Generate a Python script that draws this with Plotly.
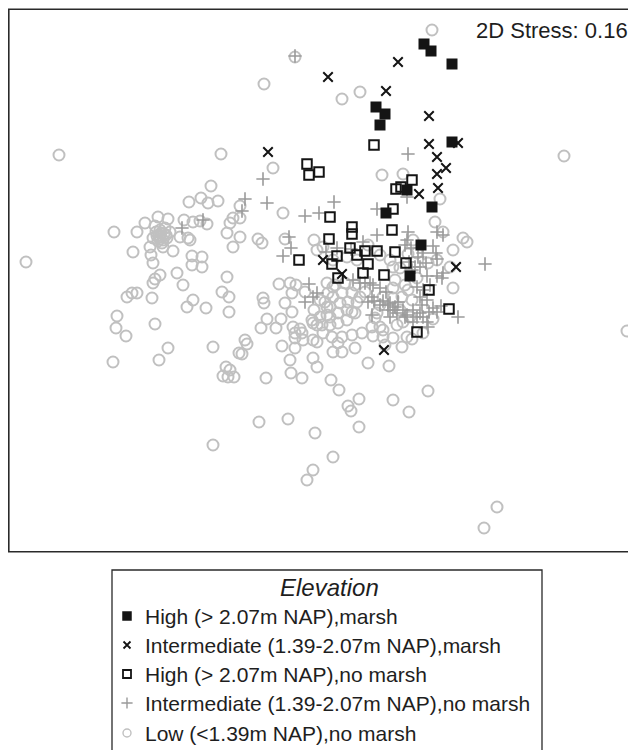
import plotly.graph_objects as go

# ---------------- data (NMDS ordination scores) ----------------
hm_x = [1.04, 1.11, 1.32, 0.56, 0.65, 0.60, 1.32, 0.87, 1.12, 0.66, 1.01, 0.90]
hm_y = [2.36, 2.29, 2.16, 1.73, 1.66, 1.55, 1.38, 0.90, 0.73, 0.67, 0.35, 0.04]

im_x = [-0.52, 0.08, 0.78, 0.66, 1.09, 1.09, 1.38, 1.17, 1.26, 1.17, 1.18, 0.99, 0.03, 0.22, 1.36, 0.64]
im_y = [1.28, 2.03, 2.18, 1.89, 1.64, 1.36, 1.37, 1.23, 1.12, 1.06, 0.92, 0.86, 0.20, 0.06, 0.13, -0.70]

hn_x = [-0.13, -0.11, -0.01, 0.54, 0.92, 0.76, 0.81, 0.73, 0.10, 0.32, 0.32, 0.09, 0.72, -0.21, 0.30,
        0.17, 0.12, 0.45, 0.57, 0.37, 0.48, 0.43, 0.64, 0.75, 0.86, 0.18, 1.09, 1.29, 0.97]
hn_y = [1.16, 1.05, 1.08, 1.35, 1.00, 0.91, 0.93, 0.71, 0.63, 0.53, 0.46, 0.41, 0.50, 0.20, 0.32,
        0.24, 0.16, 0.29, 0.29, 0.25, 0.16, 0.07, 0.05, 0.28, 0.17, 0.02, -0.10, -0.29, -0.52]

in_x = [-0.25, -0.57, -0.75, -0.53, -0.78, -1.38, -1.17, -0.15, -0.01, 0.14, -0.31, -0.29, -0.37,
        0.88, 0.87, 0.57, 0.57, 0.88, 1.17, 1.23, 1.65, 0.06, 0.17, 0.31, 0.43, 0.85, 0.87, 0.91,
        1.03, 1.13, 1.16, 0.98, 0.89, 0.95, 1.06, 1.00, 1.17, 1.23, 1.22, 1.07, 1.17, 0.92, 1.10,
        0.45, 0.50, 0.40, 0.33, 0.53, 0.60, 0.66, 0.52, 0.54, 0.63, 0.48, 0.60, 0.68, 0.70, 0.78,
        0.75, 0.73, 0.83, 0.68, 0.70, 0.52, 0.77, 0.87, 0.93, 1.00, 1.03, 0.97, 1.07, 1.02, 1.09,
        1.13, 1.21, 1.17, 1.00, 1.03, 0.97, 0.93, 0.85, 1.07, 1.08, 1.38, -0.15, -0.11, -0.07, -0.03]
in_y = [2.24, 1.01, 0.81, 0.77, 0.69, 0.52, 0.60, 0.64, 0.67, 0.78, 0.43, 0.32, 0.24,
        1.26, 0.83, 0.71, 0.45, 0.48, 0.48, 0.45, 0.16, 0.28, 0.32, 0.31, 0.38, 0.35, 0.40, 0.32,
        0.27, 0.34, 0.27, 0.23, 0.18, 0.13, 0.17, 0.13, 0.21, 0.07, 0.02, 0.04, 0.04, 0.10, -0.05,
        -0.03, -0.03, -0.03, 0.00, -0.05, -0.08, -0.12, -0.17, -0.21, -0.21, -0.22, -0.25, -0.25, -0.23, -0.22,
        -0.27, -0.30, -0.30, -0.30, -0.37, -0.35, -0.33, -0.35, -0.30, -0.17, -0.10, -0.07, -0.20, -0.25, -0.32,
        -0.28, -0.26, -0.32, -0.33, -0.37, -0.37, -0.42, -0.37, -0.42, -0.47, -0.37, -0.22, -0.04, -0.17, -0.13]

ln_x = [1.12, -0.25, -0.56, 0.22, 0.40, -2.61, -0.99, 2.44, -0.47, 0.62, 0.83, 1.20, 1.15, -0.37, 3.07,
        -2.94, 1.77, 1.64,
        -1.09, -1.19, -1.31, -1.12, -1.02, -0.80, -0.87, -0.80, -0.90, -2.06, -1.83, -1.75, -1.62, -1.52,
        -1.36, -1.27, -1.20, -1.13, -0.93, -0.80, -0.87, -0.62, -0.58, -0.35, -0.06, -1.40, -1.32, -1.30,
        -1.67, -1.60, -1.57, -1.47, -1.70, -1.87, -1.69, -1.67, -1.28, -1.18, -1.18, -0.93, -1.43, -1.60,
        -1.65, -1.37, -1.67, -1.68, -1.83, -1.88, -1.93, -2.03, -2.04, -1.94, -1.65, -1.52, -1.61, -2.07,
        -1.33, -1.27, -1.14, -0.98, -0.91, -0.91, -1.07, -0.75, -0.73, -0.81, -0.78, -0.94, -0.90, -0.92,
        -0.97, -0.86, -0.54, -0.61, -0.32, -0.05, -0.07, -0.13, -1.07, -1.28,
        -1.64, -1.60, -1.56, -1.62, -1.58, -1.53, -1.55, -1.50, -1.65,
        -1.61, -1.57, -1.63, -1.54, -1.59, -1.60,
        -0.57, -0.56, -0.41, -0.30, -0.24, -0.28, -0.28, -0.06, -0.53, -0.59, -0.44, -0.39, -0.27, -0.20,
        -0.25, -0.38, -0.25, -0.30, -0.29, -0.18, -0.07, -0.03, -0.03, -0.03, -0.03, -0.18, -0.07, 0.07,
        0.07, 0.00, 0.08, 0.13, 0.07, 0.13, 0.27, 0.37, 0.48, 0.60, 0.70, 0.73, 0.80, 0.93, 0.97, 0.88,
        0.15, 0.25, 0.35, 0.32, 0.22, 0.13, 0.05, 0.10, 0.20, 0.28, 0.37, 0.27, 0.18, 0.10, 0.00, 0.02,
        0.10, 0.18, 0.27, 0.35, 0.57, 0.60, 0.73, 0.82, 0.88, 0.80, 0.90, 0.83, 0.77, 0.60, 0.52, 0.42,
        0.32, 0.22, 0.12, 0.03, -0.07, -0.17, -0.35, -0.15, 1.03, 0.87, 0.73, 0.63, 0.65, 1.33, 1.13,
        0.92, 0.82, 0.53, 0.48, 0.69, 1.08, 0.73, 0.89, 0.39, 0.28, 0.31, 0.39, 0.11, 0.19, 0.13, 0.35,
        0.22, 0.13, 0.18, -0.08, 0.55, 0.63, 0.32, 1.23, 1.43, 1.47, 1.33, 1.17, 1.30, 0.03, -0.25,
        0.85, 0.75, 0.97, 1.08, 0.92, 0.63, 0.73, 0.45, 0.40]
ln_y = [2.50, 2.23, 1.96, 1.81, 1.88, 1.25, 1.26, 1.24, 1.12, 1.05, 1.06, 0.81, 0.58, 0.67, -0.51,
        0.18, -2.27, -2.48,
        0.94, 0.82, 0.78, 0.77, 0.79, 0.74, 0.62, 0.62, 0.57, 0.48, 0.48, 0.57, 0.63, 0.61,
        0.60, 0.58, 0.59, 0.56, 0.47, 0.43, 0.33, 0.41, 0.37, 0.41, 0.40, 0.43, 0.42, 0.40,
        0.42, 0.43, 0.33, 0.29, 0.33, 0.28, 0.25, 0.17, 0.15, 0.23, 0.13, 0.03, 0.07, 0.05,
        0.01, -0.05, -0.03, -0.18, -0.13, -0.13, -0.17, -0.36, -0.48, -0.56, -0.44, -0.68, -0.80, -0.82,
        -0.27, -0.20, -0.28, -0.12, -0.17, -0.32, -0.67, -0.60, -0.64, -0.73, -0.74, -0.87, -0.90, -0.97,
        -0.96, -0.97, -0.98, -1.42, -1.39, -1.53, -1.90, -2.00, -1.65, 0.24,
        0.48, 0.50, 0.46, 0.39, 0.37, 0.42, 0.52, 0.48, 0.54,
        0.45, 0.40, 0.44, 0.45, 0.47, 0.41,
        -0.18, -0.23, -0.04, -0.03, -0.05, -0.13, -0.32, -0.30, -0.39, -0.48, -0.48, -0.39, -0.47, -0.49,
        -0.58, -0.66, -0.68, -0.80, -0.93, -0.98, -0.78, -0.87, -0.62, -0.45, 0.30, -0.53, -0.43, -0.35,
        -0.27, -0.20, -0.13, -0.07, -0.03, 0.20, 0.23, 0.20, 0.35, 0.25, 0.20, 0.13, 0.12, 0.40, 0.27, 0.26,
        -0.05, -0.03, -0.05, -0.13, -0.13, -0.17, -0.22, -0.27, -0.23, -0.22, -0.22, -0.30, -0.33, -0.37, -0.37, -0.45,
        -0.45, -0.43, -0.40, -0.33, -0.33, -0.25, -0.18, -0.17, -0.10, -0.30, -0.37, -0.42, -0.45, -0.47, -0.47, -0.53,
        -0.55, -0.57, -0.57, -0.53, -0.60, -0.60, -0.23, -0.12, -0.53, -0.57, -0.58, -0.57, -0.65, -0.08, -0.39,
        -0.59, -0.67, -0.56, -0.83, -0.86, -1.11, -1.20, -1.32, -1.19, -1.26, -1.31, -1.47, -1.00, -1.10, -1.77, -0.68,
        -0.72, -0.72, -0.63, -0.40, -0.38, -0.50, -0.32, 0.48, 0.42, 0.38, 0.30, 0.20, 0.13, 0.33, -0.53,
        -0.05, 0.00, 0.02, 0.17, -0.20, -0.17, -0.08, -0.12, -0.17]

group_labels = [
    "High (> 2.07m NAP),marsh",
    "Intermediate (1.39-2.07m NAP),marsh",
    "High (> 2.07m NAP),no marsh",
    "Intermediate (1.39-2.07m NAP),no marsh",
    "Low (<1.39m NAP),no marsh",
]
legend_title = "Elevation"
stress_text = "2D Stress: 0.16"

# ---------------- styles ----------------
FONT = "Liberation Sans, Arial, Helvetica, sans-serif"
BLACK = "#141414"
PLUS_GREY = "#9a9a9a"
CIRC_GREY = "#c0c0c0"

# The page body has an 8px margin, so the figure starts at page pixel (8, 8);
# size it so that it fills the rest of the 636x750 window exactly.
OFF = 8
W, H = 636 - OFF, 750 - OFF

styles = [
    dict(symbol="square", size=11, color=BLACK, line=dict(width=0, color=BLACK)),
    dict(symbol="x-thin-open", size=9.5, color=BLACK, line=dict(width=2, color=BLACK)),
    dict(symbol="square-open", size=9.5, color=BLACK, line=dict(width=2, color=BLACK)),
    dict(symbol="cross-thin-open", size=9.5, color=PLUS_GREY, line=dict(width=1.6, color=PLUS_GREY)),
    dict(symbol="circle-open", size=11, color=CIRC_GREY, line=dict(width=2, color=CIRC_GREY)),
]
legend_styles = [
    dict(symbol="square", size=9.5, color=BLACK, line=dict(width=0, color=BLACK)),
    dict(symbol="x-thin-open", size=7, color=BLACK, line=dict(width=1.8, color=BLACK)),
    dict(symbol="square-open", size=8, color=BLACK, line=dict(width=1.8, color=BLACK)),
    dict(symbol="cross-thin-open", size=8, color=PLUS_GREY, line=dict(width=1.4, color=PLUS_GREY)),
    dict(symbol="circle-open", size=8, color=CIRC_GREY, line=dict(width=1.4, color=CIRC_GREY)),
]

series = [(hm_x, hm_y), (im_x, im_y), (hn_x, hn_y), (in_x, in_y), (ln_x, ln_y)]

fig = go.Figure()
# draw low-elevation first so darker markers sit on top
for i in [4, 3, 2, 1, 0]:
    sx, sy = series[i]
    fig.add_trace(go.Scatter(x=sx, y=sy, mode="markers", name=group_labels[i],
                             marker=styles[i], showlegend=False, hoverinfo="skip",
                             xaxis="x", yaxis="y"))

# ---------------- legend drawn on a helper axis in page pixels ----------------
leg_left, leg_right, leg_top = 112, 542, 570
sym_x, txt_x = 127, 143
row_y = [616, 645, 674, 703, 733]
for i, lab in enumerate(group_labels):
    fig.add_trace(go.Scatter(x=[sym_x], y=[row_y[i]], mode="markers", marker=legend_styles[i],
                             showlegend=False, hoverinfo="skip", xaxis="x2", yaxis="y2"))
    fig.add_annotation(x=txt_x, y=row_y[i], xref="x2", yref="y2", text=lab, showarrow=False,
                       xanchor="left", yanchor="middle",
                       font=dict(family=FONT, size=21, color="#1e1e1e"))
fig.add_annotation(x=(leg_left + leg_right) / 2 + 2, y=587, xref="x2", yref="y2", text=legend_title,
                   showarrow=False, xanchor="center", yanchor="middle",
                   font=dict(family=FONT, size=24, color="#1e1e1e", style="italic"))
fig.add_shape(type="rect", xref="x2", yref="y2", x0=leg_left, x1=leg_right, y0=leg_top, y1=780,
              line=dict(color="#2a2a2a", width=1.3), layer="above")

# stress annotation
fig.add_annotation(x=630, y=30, xref="x2", yref="y2", text=stress_text, showarrow=False,
                   xanchor="right", yanchor="middle",
                   font=dict(family=FONT, size=22, color="#1e1e1e"))

# plot frame (page pixels; right side runs off the page as in the original)
pg_left, pg_top, pg_bottom = 8.8, 9.3, 551.7
fx0 = (pg_left - OFF) / W
fy0 = 1 - (pg_bottom - OFF) / H
fy1 = 1 - (pg_top - OFF) / H
fig.add_shape(type="rect", xref="paper", yref="paper",
              x0=fx0, x1=1.02, y0=fy0, y1=fy1,
              line=dict(color="#2a2a2a", width=1.6), layer="above")

fig.update_layout(
    width=W, height=H,
    margin=dict(l=0, r=0, t=0, b=0, autoexpand=False),
    paper_bgcolor="white", plot_bgcolor="rgba(0,0,0,0)",
    showlegend=False,
    xaxis=dict(domain=[fx0, 1], range=[-3.112, 3.16], visible=False, fixedrange=True),
    yaxis=dict(domain=[fy0, fy1], range=[-2.717, 2.707], visible=False, fixedrange=True),
    xaxis2=dict(domain=[0, 1], range=[OFF, 636], visible=False, anchor="y2", fixedrange=True),
    yaxis2=dict(domain=[0, 1], range=[750, OFF], visible=False, anchor="x2", fixedrange=True),
)

fig.write_html("out.html")
